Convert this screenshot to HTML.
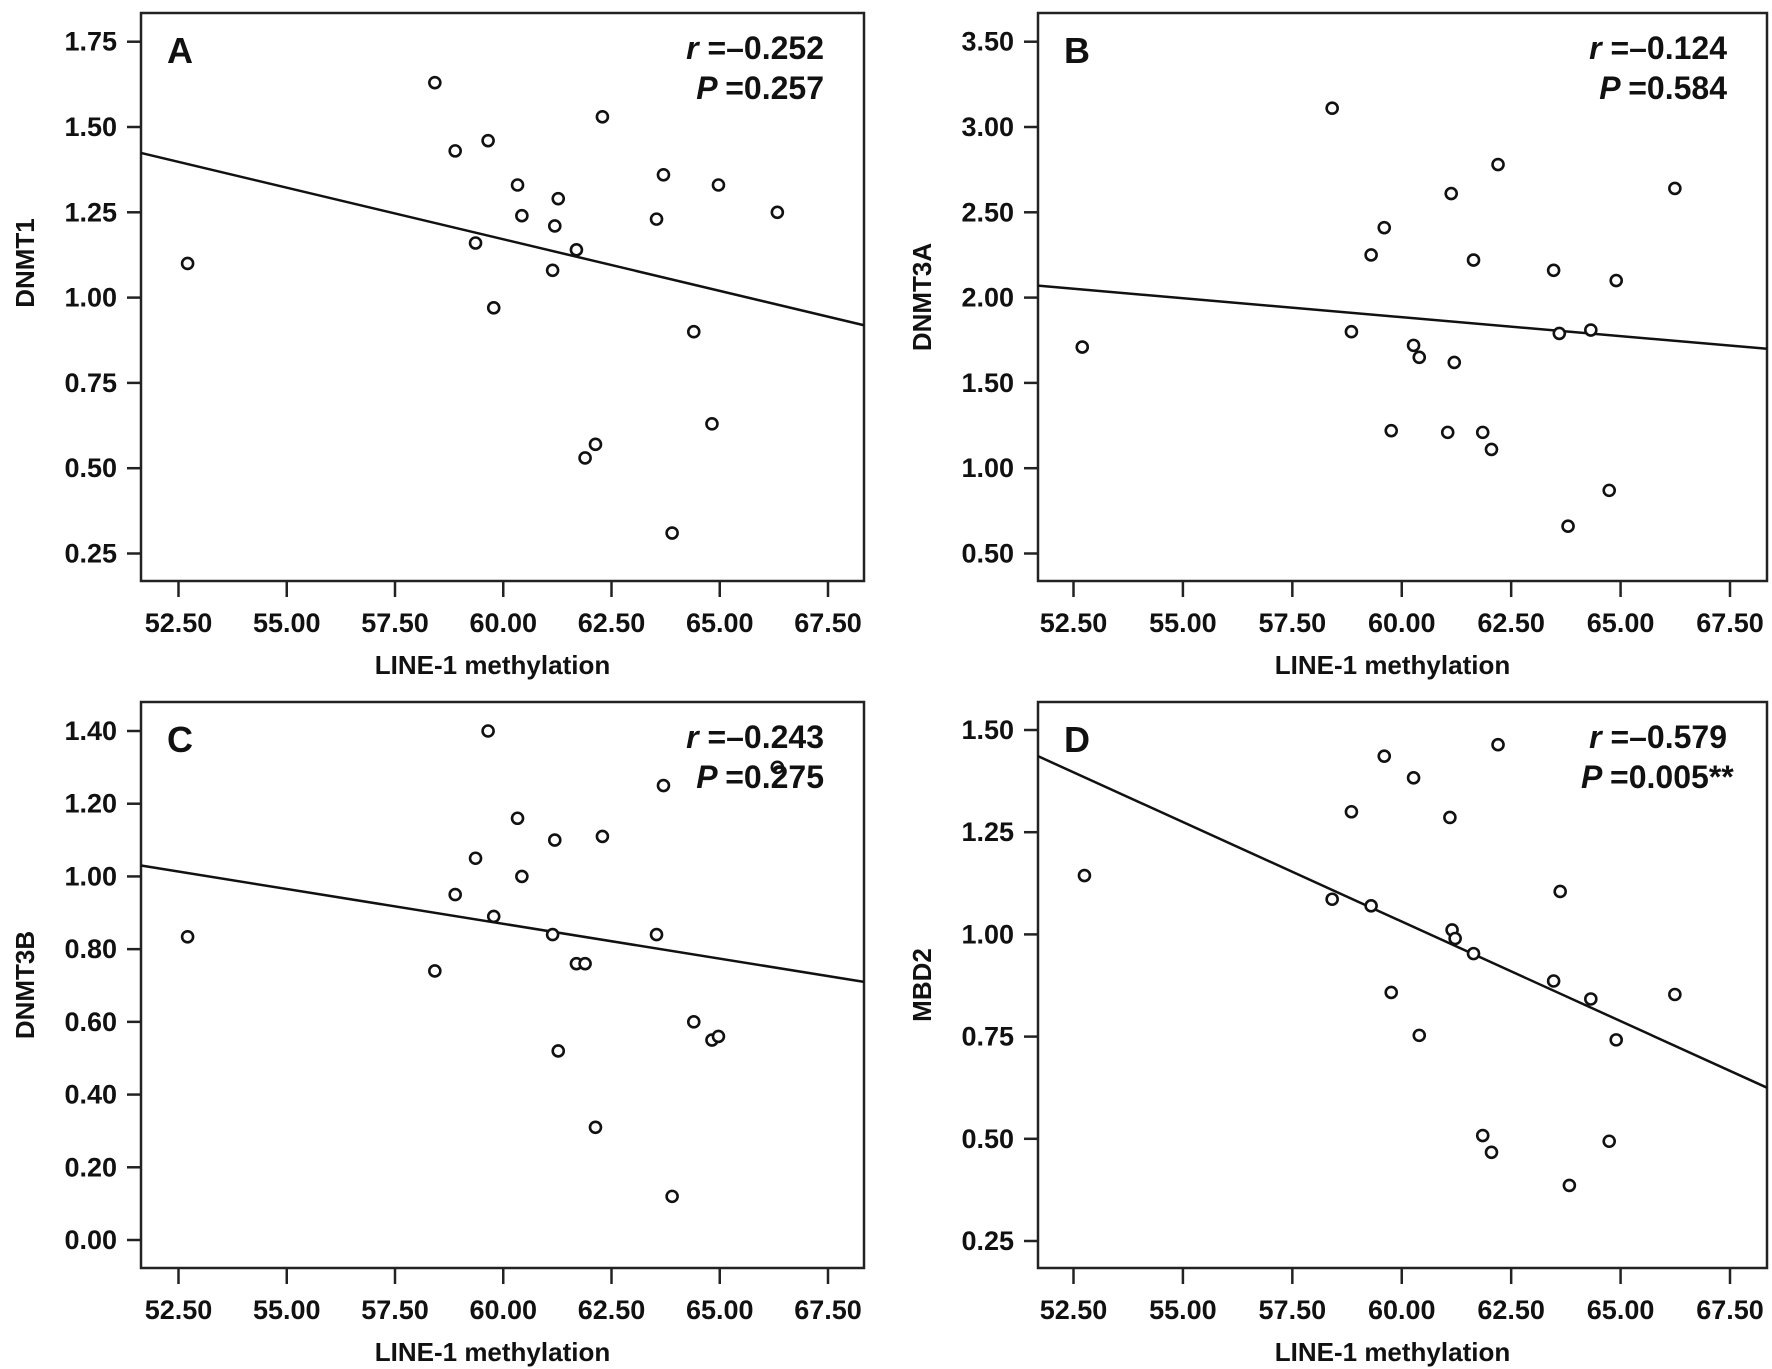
<!DOCTYPE html>
<html><head><meta charset="utf-8">
<style>
html,body{margin:0;padding:0;background:#fff;}
svg{display:block;}
text{font-family:"Liberation Sans Narrow","Liberation Sans",sans-serif;font-weight:bold;fill:#111;}
</style></head>
<body>
<svg id="chart" width="1772" height="1369" viewBox="0 0 1772 1369"></svg>
<script>
// Panel A data
const xA = [52.71,58.42,58.89,59.65,60.33,60.43,61.27,61.19,61.69,61.14,59.36,59.78,62.29,63.70,63.54,64.97,66.33,64.40,64.82,62.13,61.89,63.90];
const yA = [1.10,1.63,1.43,1.46,1.33,1.24,1.29,1.21,1.14,1.08,1.16,0.97,1.53,1.36,1.23,1.33,1.25,0.90,0.63,0.57,0.53,0.31];
const fitA = [1.424,0.919];
const ticksYA = ["0.25","0.50","0.75","1.00","1.25","1.50","1.75"];
// Panel B data
const xB = [52.70,58.41,58.85,59.30,59.60,59.76,60.27,60.40,61.05,61.13,61.20,61.64,61.85,62.05,62.20,63.47,63.60,63.80,64.32,64.74,64.90,66.24];
const yB = [1.71,3.11,1.80,2.25,2.41,1.22,1.72,1.65,1.21,2.61,1.62,2.22,1.21,1.11,2.78,2.16,1.79,0.66,1.81,0.87,2.10,2.64];
const fitB = [2.07,1.70];
const ticksYB = ["0.50","1.00","1.50","2.00","2.50","3.00","3.50"];
// Panel C data
const xC = [52.71,58.42,58.89,59.36,59.65,59.78,60.33,60.43,61.14,61.19,61.27,61.69,61.89,62.13,62.29,63.54,63.70,63.90,64.40,64.82,64.97,66.33];
const yC = [0.834,0.74,0.95,1.05,1.40,0.89,1.16,1.00,0.84,1.10,0.52,0.76,0.76,0.31,1.11,0.84,1.25,0.12,0.60,0.55,0.56,1.30];
const fitC = [1.03,0.71];
const ticksYC = ["0.00","0.20","0.40","0.60","0.80","1.00","1.20","1.40"];
// Panel D data
const xD = [52.75,58.41,58.85,59.30,59.60,59.76,60.27,60.40,61.10,61.15,61.22,61.64,61.85,62.05,62.20,63.47,63.62,63.83,64.32,64.74,64.90,66.24];
const yD = [1.144,1.086,1.30,1.07,1.436,0.858,1.383,0.753,1.286,1.011,0.99,0.953,0.508,0.467,1.464,0.886,1.105,0.386,0.842,0.494,0.742,0.853];
const fitD = [1.436,0.625];
const ticksYD = ["0.25","0.50","0.75","1.00","1.25","1.50"];
const ticksX = ["52.50","55.00","57.50","60.00","62.50","65.00","67.50"];

const NS="http://www.w3.org/2000/svg";
const svg=document.getElementById('chart');
function mk(tag,attrs,parent){const e=document.createElementNS(NS,tag);for(const k in attrs)e.setAttribute(k,attrs[k]);(parent||svg).appendChild(e);return e;}

const panels=[
 {key:'a',letter:'A',ytitle:'DNMT1',yoff:-34,xs:xA,ys:yA,fit:fitA,ticks:ticksYA,r:'=\u20130.252',p:'=0.257',
  box:[141,864,13,581],xm:[178.5,828],ym:[41.7,553.5]},
 {key:'b',letter:'B',ytitle:'DNMT3A',yoff:0,xs:xB,ys:yB,fit:fitB,ticks:ticksYB,r:'=\u20130.124',p:'=0.584',
  box:[1038,1767,13,581],xm:[1073.5,1730],ym:[41.7,553.5]},
 {key:'c',letter:'C',ytitle:'DNMT3B',yoff:0,xs:xC,ys:yC,fit:fitC,ticks:ticksYC,r:'=\u20130.243',p:'=0.275',
  box:[141,864,702,1268],xm:[178.5,828],ym:[731,1240]},
 {key:'d',letter:'D',ytitle:'MBD2',yoff:0,xs:xD,ys:yD,fit:fitD,ticks:ticksYD,r:'=\u20130.579',p:'=0.005**',
  box:[1038,1767,702,1268],xm:[1073.5,1730],ym:[730,1241]}
];

panels.forEach(P=>{
  const [L,R,T,B]=P.box;
  const x0=parseFloat(ticksX[0]),x1=parseFloat(ticksX[ticksX.length-1]);
  const t0=parseFloat(P.ticks[P.ticks.length-1]),tb=parseFloat(P.ticks[0]);
  const sx=v=>P.xm[0]+(v-x0)/(x1-x0)*(P.xm[1]-P.xm[0]);
  const sy=v=>P.ym[0]+(t0-v)/(t0-tb)*(P.ym[1]-P.ym[0]);
  const g=mk('g',{});
  
  
  const rect=mk('rect',{x:L,y:T,width:R-L,height:B-T,fill:'none',stroke:'#222','stroke-width':2.5},g);
  
  
  P.ticks.forEach(t=>{
    const y=sy(parseFloat(t));
    const tk=mk('line',{x1:L-14,x2:L,y1:y,y2:y,stroke:'#222','stroke-width':2.5},g);
    
    
    const tx=mk('text',{x:L-24,y:y+9,'text-anchor':'end','font-size':27},g);
    tx.textContent=t;
    
    
  });
  ticksX.forEach(t=>{
    const x=sx(parseFloat(t));
    const tk=mk('line',{x1:x,x2:x,y1:B,y2:B+16,stroke:'#222','stroke-width':2.5},g);
    
    
    const tx=mk('text',{x:x,y:B+51,'text-anchor':'middle','font-size':27},g);
    tx.textContent=t;
    
    
  });
  const xt=mk('text',{x:(L+R)/2-10,y:B+93,'text-anchor':'middle','font-size':26,style:'font-family:"Liberation Sans",sans-serif'},g);
  xt.textContent='LINE-1 methylation';
  
  
  const yc=(T+B)/2+P.yoff;
  const yt=mk('text',{x:0,y:0,'text-anchor':'middle','font-size':26,transform:`translate(${L-107},${yc}) rotate(-90)`,style:'font-family:"Liberation Sans",sans-serif'},g);
  yt.textContent=P.ytitle;
  
  
  const ln=mk('line',{x1:L,x2:R,y1:sy(P.fit[0]),y2:sy(P.fit[1]),stroke:'#111','stroke-width':2.5},g);
  
  
  P.xs.forEach((xv,i)=>{
    const c=mk('circle',{cx:sx(xv),cy:sy(P.ys[i]),r:5.5,fill:'#fff',stroke:'#111','stroke-width':2.6},g);
    
    
  });
  const lt=mk('text',{x:L+26,y:T+50,'font-size':36,style:'font-family:"Liberation Sans",sans-serif'},g);
  lt.textContent=P.letter;
  
  
  const rt=mk('text',{x:R-40,y:T+46,'text-anchor':'end','font-size':32},g);
  rt.innerHTML='<tspan font-style="italic">r </tspan><tspan>'+P.r+'</tspan>';
  
  
  const pt=mk('text',{x:R-40,y:T+86,'font-size':32,'text-anchor':'end'},g);
  if(P.key==='d'){pt.setAttribute('text-anchor','start');pt.setAttribute('x',R-186);}
  pt.innerHTML='<tspan font-style="italic">P </tspan><tspan>'+P.p+'</tspan>';
  
  
});
</script>
</body></html>
